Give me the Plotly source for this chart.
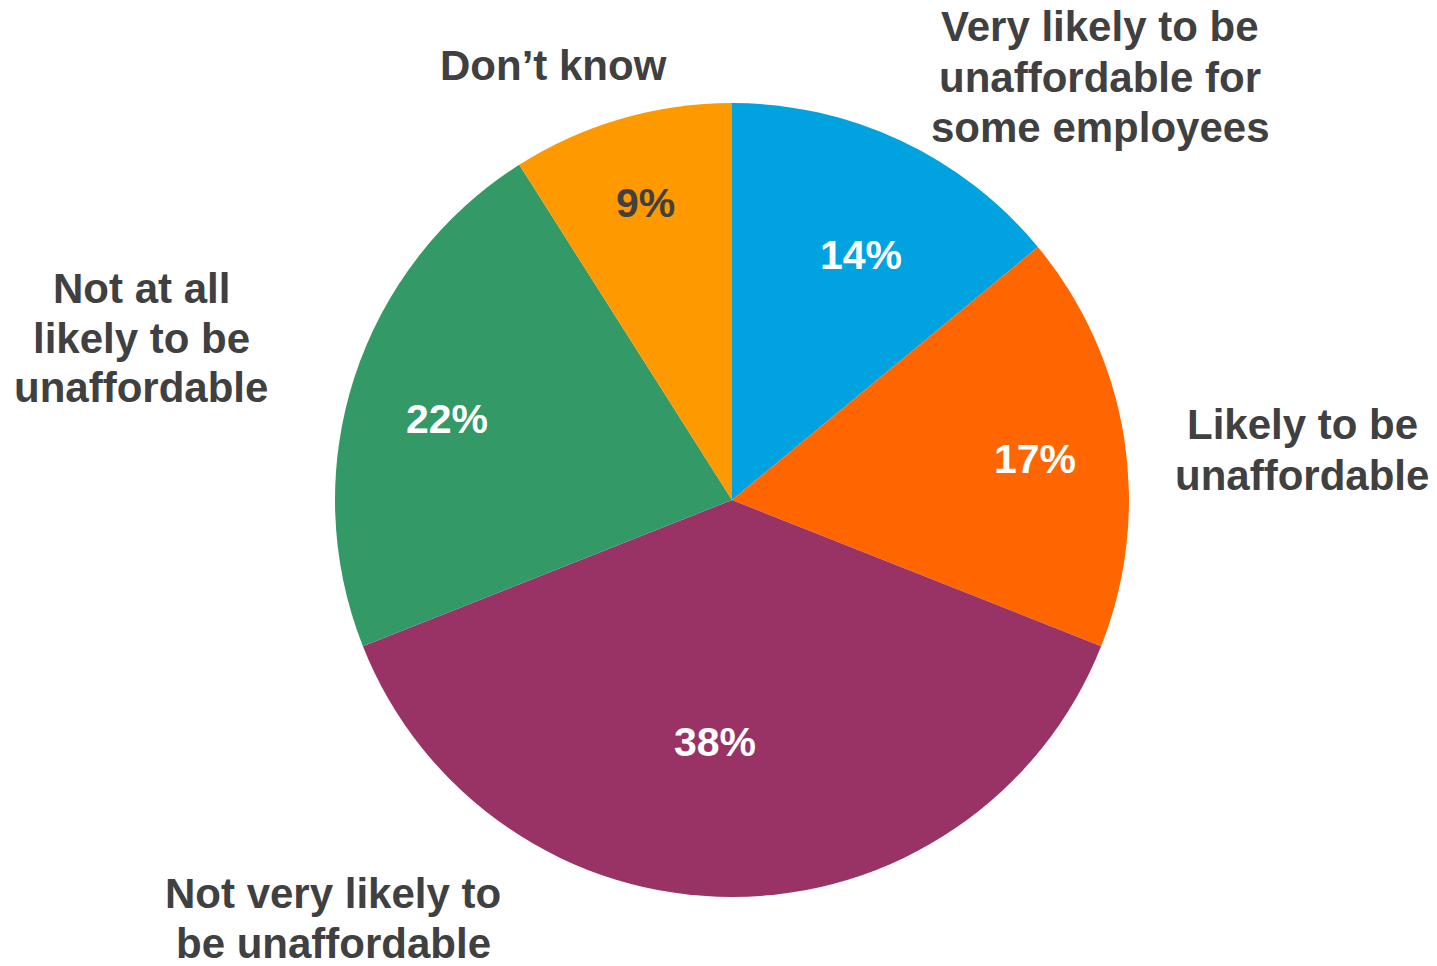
import plotly.graph_objects as go

# Survey responses (share of respondents, %)
categories = [
    "Very likely to be unaffordable for some employees",
    "Likely to be unaffordable",
    "Not very likely to be unaffordable",
    "Not at all likely to be unaffordable",
    "Don’t know",
]
shares = [14, 17, 38, 22, 9]

slice_colors = ["#00A3E0", "#FF6600", "#993366", "#339966", "#FF9900"]
pct_colors = ["#FFFFFF", "#FFFFFF", "#FFFFFF", "#FFFFFF", "#404040"]

# Category label lines and their anchor points (pixel coordinates)
label_lines = [
    ["Very likely to be", "unaffordable for", "some employees"],
    ["Likely to be", "unaffordable"],
    ["Not very likely to", "be unaffordable"],
    ["Not at all", "likely to be", "unaffordable"],
    ["Don’t know"],
]
label_centers = [(1100, 27), (1302, 425), (333, 893), (141, 288), (553, 65)]
# Anchor points for the percentage labels inside the slices (pixels)
pct_centers = [(861, 255), (1035, 459), (715, 742), (447, 419), (645, 203)]

W, H = 1437, 966
cx, cy, r = 732, 500, 397
LINE_GAP = 50
TEXT_GRAY = "#404040"
FONT = "Liberation Sans, Arial, sans-serif"

fig = go.Figure(
    go.Pie(
        labels=categories,
        values=shares,
        sort=False,
        direction="clockwise",
        rotation=0,
        marker=dict(colors=slice_colors, line=dict(width=0)),
        textinfo="none",
        hoverinfo="label+percent",
        showlegend=False,
        domain=dict(
            x=[(cx - r) / W, (cx + r) / W],
            y=[1 - (cy + r) / H, 1 - (cy - r) / H],
        ),
    )
)

annotations = []
for lines, (lx, ly) in zip(label_lines, label_centers):
    for i, line in enumerate(lines):
        annotations.append(
            dict(
                text=f"<b>{line}</b>",
                x=lx / W,
                y=1 - (ly + i * LINE_GAP) / H,
                xref="paper",
                yref="paper",
                xanchor="center",
                yanchor="middle",
                showarrow=False,
                font=dict(family=FONT, size=42, color=TEXT_GRAY),
            )
        )

# Percentage labels, text taken from the slice values
for share, color, (px, py) in zip(shares, pct_colors, pct_centers):
    annotations.append(
        dict(
            text=f"<b>{share}%</b>",
            x=px / W,
            y=1 - py / H,
            xref="paper",
            yref="paper",
            xanchor="center",
            yanchor="middle",
            showarrow=False,
            font=dict(family=FONT, size=41, color=color),
        )
    )

fig.update_layout(
    width=W,
    height=H,
    margin=dict(l=0, r=0, t=0, b=0),
    paper_bgcolor="white",
    plot_bgcolor="white",
    annotations=annotations,
)

fig.write_html("out.html")
